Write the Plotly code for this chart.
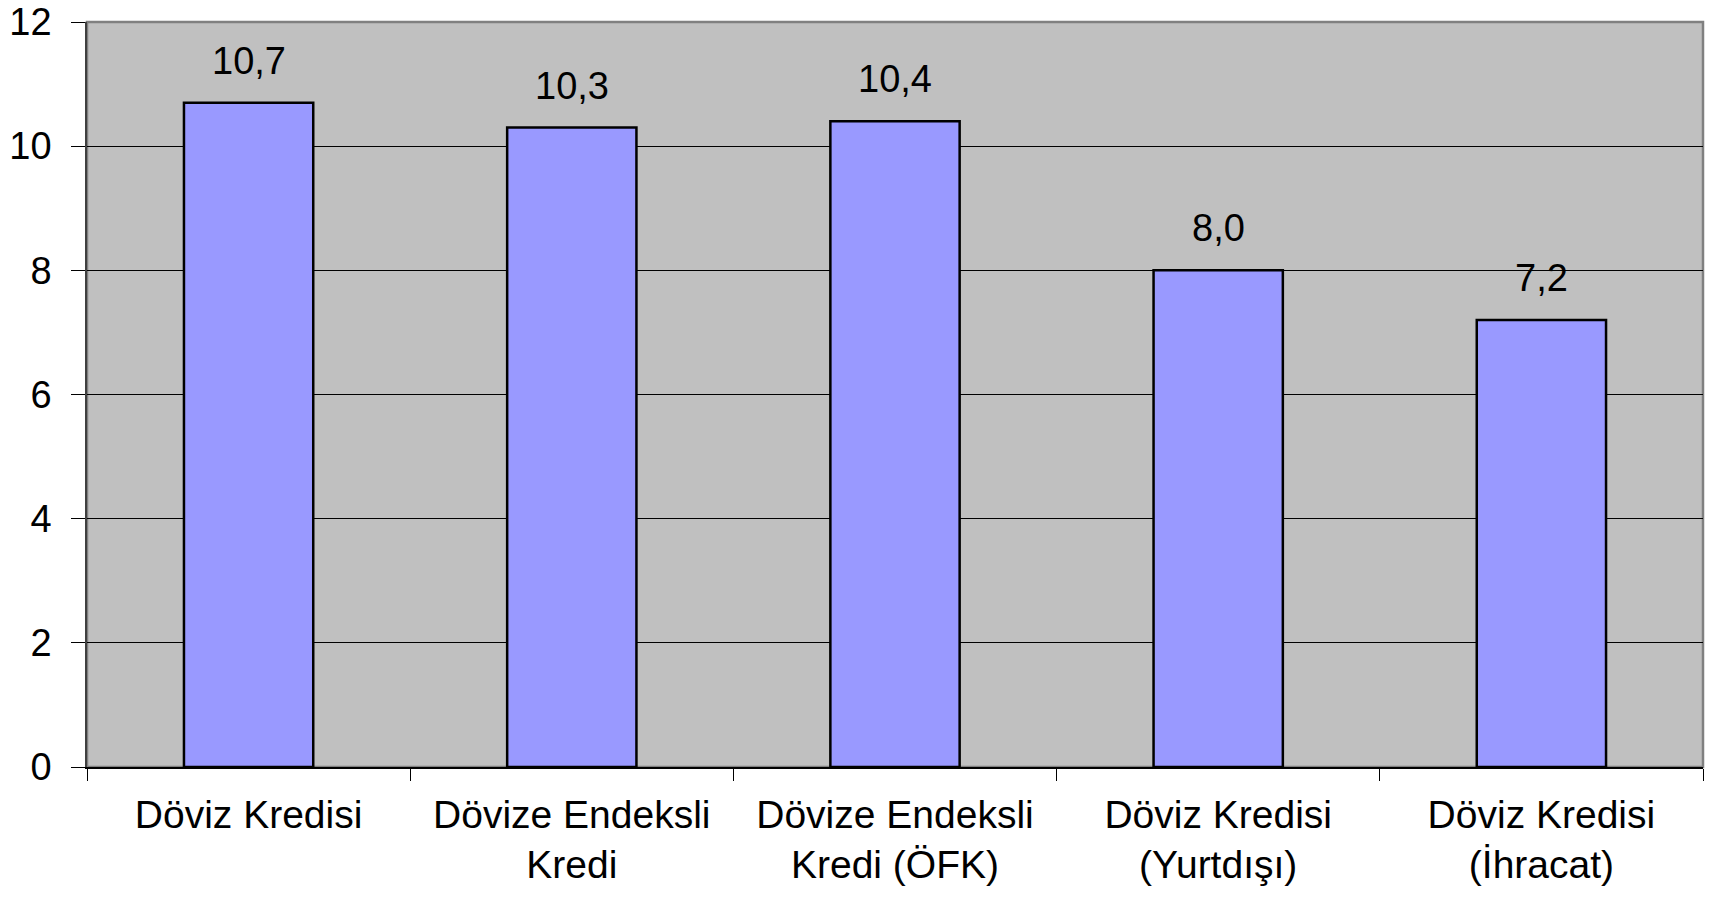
import plotly.graph_objects as go

# kategoriler ve değerler
categories = [
    "Döviz Kredisi",
    "Dövize Endeksli<br>Kredi",
    "Dövize Endeksli<br>Kredi (ÖFK)",
    "Döviz Kredisi<br>(Yurtdışı)",
    "Döviz Kredisi<br>(İhracat)",
]
values = [10.7, 10.3, 10.4, 8.0, 7.2]
y_ticks = [0, 2, 4, 6, 8, 10, 12]

FONT = "Liberation Sans, Arial, sans-serif"

fig = go.Figure()

fig.add_trace(go.Bar(
    x=categories, y=values,
    marker=dict(color="#9999FF", line=dict(color="black", width=2.5)),
    width=0.4,
    hoverinfo="skip",
    showlegend=False,
))

# değer etiketleri (virgüllü ondalık)
for c, v in zip(categories, values):
    fig.add_annotation(
        x=c, y=v, text=f"{v:.1f}".replace(".", ","),
        showarrow=False, yanchor="bottom", yshift=19,
        font=dict(family=FONT, size=38, color="black"),
    )

# gri çerçeve
fig.add_shape(type="rect", xref="paper", yref="paper", x0=0, x1=1, y0=0, y1=1,
              line=dict(color="#808080", width=2.5), layer="below")

fig.update_layout(
    width=1711, height=897,
    margin=dict(l=87, r=8, t=22, b=130),
    paper_bgcolor="white",
    plot_bgcolor="#C0C0C0",
    font=dict(family=FONT, color="black"),
)

fig.update_xaxes(
    showline=True, linecolor="black", linewidth=1.5,
    ticks="outside", ticklen=12, tickcolor="black", tickwidth=1,
    tickson="boundaries",
    tickfont=dict(family=FONT, size=39, color="black"),
    ticklabelstandoff=12,
    automargin=False,
    showgrid=False,
)
fig.update_yaxes(
    range=[0, 12], tickvals=y_ticks,
    showline=True, linecolor="#404040", linewidth=1.5,
    ticks="outside", ticklen=14, tickcolor="black", tickwidth=1,
    tickfont=dict(family=FONT, size=38, color="black"),
    ticklabelstandoff=12,
    ticklabeloverflow="allow",
    automargin=False,
    showgrid=True, gridcolor="black", gridwidth=1,
    zeroline=False,
)

# sayfa gövdesinin varsayılan 8px kenar boşluğunu kaldır, modebar gizle
fig.write_html("out.html", config={"displayModeBar": False},
               post_script="document.body.style.margin='0';")
